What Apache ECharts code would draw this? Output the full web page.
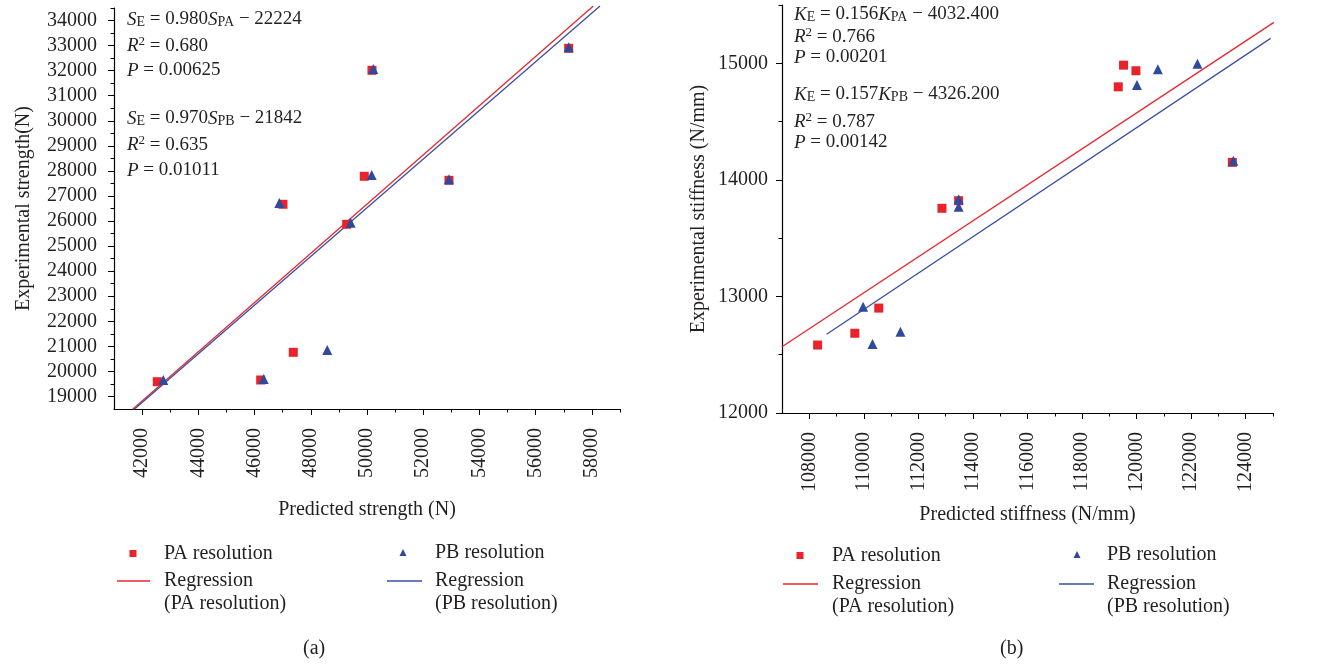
<!DOCTYPE html>
<html><head><meta charset="utf-8">
<script src="https://cdn.jsdelivr.net/npm/echarts@6/dist/echarts.min.js"></script>
<style>html,body{margin:0;padding:0;background:#fff}#c{width:1343px;height:665px}</style>
</head><body><div id="c"></div>
<script>
// ---- Data (a) strength ----
const paStrength = [[42540,19589],[46218,19657],[47378,20762],[47011,26668],[49277,25870],[49903,27785],[50177,32014],[52916,27625],[57174,32892]];
const pbStrength = [[42754,19657],[46325,19697],[48587,20854],[46880,26719],[49419,25933],[50166,27837],[50223,32066],[52916,27665],[57174,32932]];
const paStrengthReg = [[41665,18490],[58051,34580]];
const pbStrengthReg = [[41722,18490],[58289,34580]];
const strengthYTicks = [19000,20000,21000,22000,23000,24000,25000,26000,27000,28000,29000,30000,31000,32000,33000,34000];
const strengthYMinor = [19500,20500,21500,22500,23500,24500,25500,26500,27500,28500,29500,30500,31500,32500,33500,34500];
const strengthXTicks = [42000,44000,46000,48000,50000,52000,54000,56000,58000];
const strengthXMinor = [43000,45000,47000,49000,51000,53000,55000,57000,59000];
// ---- Data (b) stiffness ----
const paStiff = [[108306,12583],[109670,12684],[110548,12900],[112864,13756],[113475,13821],[119327,14798],[119521,14984],[119975,14936],[123509,14150]];
const pbStiff = [[109974,12912],[110318,12592],[111342,12697],[113475,13833],[113475,13769],[120012,14813],[120780,14948],[122229,14996],[123545,14164]];
const paStiffReg = [[107000,12569],[125033,15351]];
const pbStiffReg = [[108635,12675],[124912,15214]];
const stiffYTicks = [12000,13000,14000,15000];
const stiffYMinor = [12500,13500,14500,15500];
const stiffXTicks = [108000,110000,112000,114000,116000,118000,120000,122000,124000];
const stiffXMinor = [109000,111000,113000,115000,117000,119000,121000,123000,125000];

const FONT = '"Liberation Serif", "DejaVu Serif", serif';
const INK = '#231f20';
const RED = '#e8232a', BLUE = '#2f4a9c', RLINE = '#e8262c', BLINE = '#3a4ea3';

function mainAxis(dim, grid, min, max, ticks, margin, gap, name) {
  return {
    type: 'value', gridIndex: grid, min, max, position: dim === 'x' ? 'bottom' : 'left',
    name, nameLocation: 'middle', nameGap: gap,
    nameTextStyle: {fontFamily: FONT, fontSize: 20, color: INK},
    axisLine: {show: true, onZero: false, lineStyle: {color: '#000', width: 1.2}},
    axisTick: {show: true, inside: false, length: 6, customValues: ticks, lineStyle: {color: '#000'}},
    axisLabel: {show: true, customValues: ticks, margin, formatter: v => String(v),
      fontFamily: FONT, fontSize: 20, color: INK, rotate: dim === 'x' ? 90 : 0},
    splitLine: {show: false}
  };
}
function minorAxis(dim, grid, min, max, ticks) {
  return {
    type: 'value', gridIndex: grid, min, max, position: dim === 'x' ? 'bottom' : 'left',
    axisLine: {show: false, onZero: false},
    axisTick: {show: true, length: 3.5, customValues: ticks, lineStyle: {color: '#000'}},
    axisLabel: {show: false}, splitLine: {show: false}
  };
}

const rich = {
  n: {fontFamily: FONT, fontSize: 19, color: INK, padding: [0,0,6,0]},
  i: {fontFamily: FONT, fontSize: 19, fontStyle: 'italic', color: INK, padding: [0,0,6,0]},
  s: {fontFamily: FONT, fontSize: 14, color: INK, padding: [0,0,0,0]},
  p: {fontFamily: FONT, fontSize: 13, color: INK, padding: [0,0,15,0]}
};
function ann(x, y, text) {
  return {type: 'text', left: x, top: y, style: {text, rich, font: '19px ' + FONT, fill: INK}};
}

function lg(name, icon, left, top, iw, ih) {
  return {
    left, top, padding: 0, itemWidth: iw, itemHeight: ih, selectedMode: false, orient: 'vertical',
    symbolKeepAspect: true,
    data: [{name, icon}],
    formatter: n => { const b = n.split('#')[0]; return b.indexOf('\n') >= 0 ? ' \n' + b : b; },
    textStyle: {fontFamily: FONT, fontSize: 20, color: INK, lineHeight: 23}
  };
}
const SQ = 'path://M0,0h1v1h-1z';
const TRI = 'path://M0.5,0L1,1L0,1Z';
const LN33 = 'path://M0,0h33v1.4h-33z';
const LN35 = 'path://M0,0h35v1.4h-35z';

const option = {
  animation: false,
  grid: [
    {left: 114, top: 8, width: 506, height: 401},
    {left: 782, top: 5, width: 491, height: 408}
  ],
  xAxis: [
    mainAxis('x', 0, 41000, 59000, strengthXTicks, 19, 91, 'Predicted strength (N)'),
    minorAxis('x', 0, 41000, 59000, strengthXMinor),
    mainAxis('x', 1, 107000, 125000, stiffXTicks, 19, 92, 'Predicted stiffness (N/mm)'),
    minorAxis('x', 1, 107000, 125000, stiffXMinor)
  ],
  yAxis: [
    mainAxis('y', 0, 18500, 34500, strengthYTicks, 17, 80, 'Experimental strength(N)'),
    minorAxis('y', 0, 18500, 34500, strengthYMinor),
    mainAxis('y', 1, 12000, 15500, stiffYTicks, 14, 73, 'Experimental stiffness (N/mm)'),
    minorAxis('y', 1, 12000, 15500, stiffYMinor)
  ],
  legend: [
    lg('PA resolution#a', SQ, 129.5, 542, 52, 7),
    lg('Regression\n(PA resolution)#a', LN33, 117, 546.5, 51, 1.4),
    lg('PB resolution#a', TRI, 399.5, 541, 54, 7),
    lg('Regression\n(PB resolution)#a', LN35, 387, 546.5, 51, 1.4),
    lg('PA resolution#b', SQ, 796.5, 544, 54, 7),
    lg('Regression\n(PA resolution)#b', LN35, 783, 549.5, 53, 1.4),
    lg('PB resolution#b', TRI, 1073.5, 543, 50, 7),
    lg('Regression\n(PB resolution)#b', LN35, 1059, 549.5, 51, 1.4)
  ],
  series: [
    {name: 'Regression\n(PA resolution)#a', type: 'line', xAxisIndex: 0, yAxisIndex: 0, data: paStrengthReg, symbol: 'none', clip: false, lineStyle: {color: RLINE, width: 1.3}, itemStyle: {color: RLINE}, z: 2},
    {name: 'Regression\n(PB resolution)#a', type: 'line', xAxisIndex: 0, yAxisIndex: 0, data: pbStrengthReg, symbol: 'none', clip: false, lineStyle: {color: BLINE, width: 1.3}, itemStyle: {color: BLINE}, z: 2},
    {name: 'PA resolution#a', type: 'scatter', xAxisIndex: 0, yAxisIndex: 0, data: paStrength, symbol: 'rect', symbolSize: 9, itemStyle: {color: RED, opacity: 1}, z: 3},
    {name: 'PB resolution#a', type: 'scatter', xAxisIndex: 0, yAxisIndex: 0, data: pbStrength, symbol: 'triangle', symbolSize: 10, itemStyle: {color: BLUE, opacity: 1}, z: 4},
    {name: 'Regression\n(PA resolution)#b', type: 'line', xAxisIndex: 2, yAxisIndex: 2, data: paStiffReg, symbol: 'none', clip: false, lineStyle: {color: RLINE, width: 1.3}, itemStyle: {color: RLINE}, z: 2},
    {name: 'Regression\n(PB resolution)#b', type: 'line', xAxisIndex: 2, yAxisIndex: 2, data: pbStiffReg, symbol: 'none', clip: false, lineStyle: {color: BLINE, width: 1.3}, itemStyle: {color: BLINE}, z: 2},
    {name: 'PA resolution#b', type: 'scatter', xAxisIndex: 2, yAxisIndex: 2, data: paStiff, symbol: 'rect', symbolSize: 9, itemStyle: {color: RED, opacity: 1}, z: 3},
    {name: 'PB resolution#b', type: 'scatter', xAxisIndex: 2, yAxisIndex: 2, data: pbStiff, symbol: 'triangle', symbolSize: 10, itemStyle: {color: BLUE, opacity: 1}, z: 4}
  ],
  graphic: [
    ann(127, 10, '{i|S}{s|E}{n| = 0.980}{i|S}{s|PA}{n| − 22224}'),
    ann(127, 35, '{i|R}{p|2}{n| = 0.680}'),
    ann(127, 61, '{i|P}{n| = 0.00625}'),
    ann(127, 109, '{i|S}{s|E}{n| = 0.970}{i|S}{s|PB}{n| − 21842}'),
    ann(127, 134, '{i|R}{p|2}{n| = 0.635}'),
    ann(127, 161, '{i|P}{n| = 0.01011}'),
    ann(794, 5, '{i|K}{s|E}{n| = 0.156}{i|K}{s|PA}{n| − 4032.400}'),
    ann(794, 26, '{i|R}{p|2}{n| = 0.766}'),
    ann(794, 48, '{i|P}{n| = 0.00201}'),
    ann(794, 85, '{i|K}{s|E}{n| = 0.157}{i|K}{s|PB}{n| − 4326.200}'),
    ann(794, 111, '{i|R}{p|2}{n| = 0.787}'),
    ann(794, 133, '{i|P}{n| = 0.00142}'),
    {type: 'text', left: 303, top: 639, style: {text: '(a)', font: '20px ' + FONT, fill: INK}},
    {type: 'text', left: 1000, top: 639, style: {text: '(b)', font: '20px ' + FONT, fill: INK}}
  ]
};
const chart = echarts.init(document.getElementById('c'));
chart.setOption(option);
</script></body></html>
